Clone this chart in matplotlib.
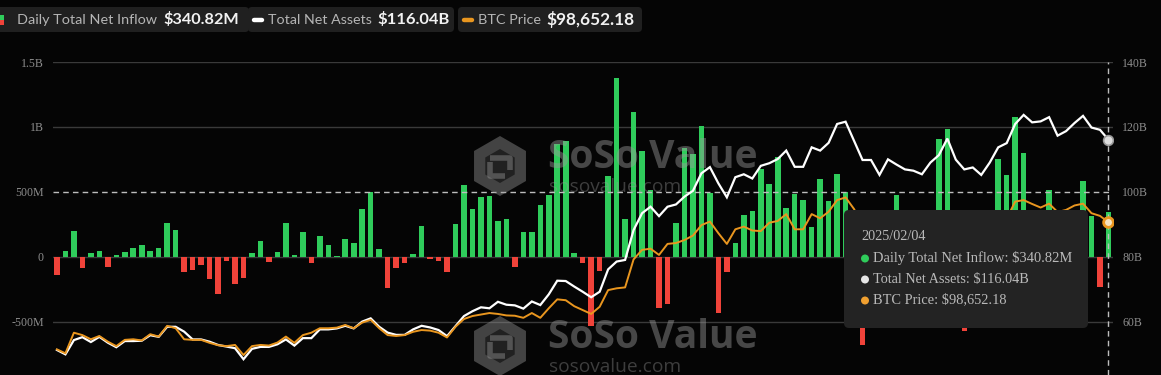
import numpy as np
import matplotlib
matplotlib.use("Agg")
import matplotlib.pyplot as plt
from matplotlib.patches import FancyBboxPatch, RegularPolygon, Rectangle, Circle
from matplotlib.lines import Line2D

W, H = 1161, 375

# ---------------- data ----------------
inflow_m = [-141, 46, 195, -85, 31, 41, -77, 13, 38, 64,
            92, 41, 67, 257, 205, -121, -100, -67, -172, -285,
            -35, -210, -167, 30, 118, -42, 40, 263, 14, 188,
            -48, 158, 91, 5, 136, 106, 366, 495, 60, -239,
            -89, -48, 24, 235, -18, -35, -118, 253, 555, 368,
            458, 470, 273, 291, -76, 191, 188, 402, 479, 870,
            892, 32, -50, -534, -113, 623, 1375, 293, 1114, 817,
            511, -395, -365, 256, 839, 795, 1006, 493, -434, -118,
            104, 322, 355, 676, 559, 769, 376, 482, 439, 225,
            600, 430, 639, 496, 275, -680, -277, -226, -338, 478,
            -288, -426, 5, 52, 909, 982, 52, -573, -149, -284,
            -209, 755, 626, 1073, 801, 248, 188, 513, -458, 22,
            40, 585, 317, -236, 340.82]

tna_b = [51.25, 49.9, 54.3, 55.2, 53.7, 55.3, 53.5, 52.1, 54.0, 54.0,
         54.1, 55.8, 55.3, 58.4, 58.4, 56.9, 54.5, 54.5, 53.8, 52.8,
         52.3, 51.8, 48.4, 51.6, 52.2, 52.2, 53.0, 54.5, 52.6, 54.9,
         54.9, 57.6, 57.6, 57.9, 58.7, 57.9, 60.0, 61.0, 58.4, 56.6,
         55.9, 55.9, 57.6, 58.7, 58.2, 57.4, 55.5, 58.6, 61.7, 63.2,
         64.4, 64.1, 66.1, 65.2, 65.0, 64.0, 66.2, 65.1, 68.4, 72.6,
         72.5, 70.8, 69.2, 67.5, 69.2, 76.1, 78.5, 79.0, 88.2, 93.4,
         95.4, 92.5, 95.4, 96.1, 98.5, 100.3, 105.7, 107.6, 102.6, 98.3,
         104.5, 105.4, 104.1, 108.0, 108.8, 110.1, 112.7, 107.7, 107.7, 113.7,
         112.7, 115.1, 120.9, 121.6, 115.7, 109.8, 109.8, 105.2, 110.0, 108.4,
         106.9, 106.5, 105.4, 109.0, 111.3, 116.4, 109.9, 106.9, 107.5, 105.2,
         109.0, 113.7, 115.0, 120.9, 123.7, 121.4, 121.7, 123.0, 117.3, 118.7,
         121.2, 123.4, 119.8, 119.1, 116.04]

btc_k = [56.0, 54.7, 61.6, 60.8, 59.4, 60.5, 58.6, 57.1, 59.2, 59.4,
         59.0, 61.1, 60.3, 63.9, 63.1, 59.4, 59.2, 59.2, 58.2, 57.4,
         57.1, 57.5, 54.1, 57.1, 57.5, 57.3, 58.3, 60.3, 58.2, 60.8,
         61.6, 63.1, 63.1, 63.3, 64.2, 63.1, 65.0, 65.9, 63.1, 60.8,
         60.5, 60.8, 61.9, 62.5, 62.3, 61.6, 60.0, 63.6, 66.2, 67.2,
         67.7, 68.2, 67.9, 67.4, 67.3, 66.6, 68.2, 66.6, 69.8, 72.8,
         72.5, 70.5, 69.2, 67.9, 70.3, 75.9, 76.5, 76.8, 86.2, 89.4,
         89.8, 87.7, 91.4, 91.7, 92.7, 94.2, 97.7, 98.9, 95.0, 91.4,
         96.3, 97.2, 95.9, 95.7, 98.5, 99.1, 101.4, 96.3, 96.3, 101.4,
         100.0, 102.2, 106.1, 107.0, 103.1, 97.5, 97.2, 94.7, 98.7, 95.8,
         94.2, 92.6, 93.4, 96.9, 98.1, 102.1, 96.9, 95.0, 94.5, 94.5,
         96.5, 100.5, 99.9, 105.6, 106.1, 104.8, 103.6, 104.9, 102.1, 102.8,
         104.3, 104.9, 101.7, 100.8, 98.65218]

left_ticks = [-5e8, 0, 5e8, 1e9, 1.5e9]
left_labels = ["-500M", "0", "500M", "1B", "1.5B"]
right_ticks = [60, 80, 100, 120, 140]
right_labels = ["60B", "80B", "100B", "120B", "140B"]
tooltip_date = "2025/02/04"
series_names = ["Daily Total Net Inflow", "Total Net Assets", "BTC Price"]

# ---------------- style ----------------
BG = "#050505"
GREEN = "#2fcc5b"
RED = "#f0433a"
ORANGE = "#e9961f"
GRID = "#3a3a3a"
TICK = "#8c8c8c"
SERIF = ["Liberation Serif", "DejaVu Serif"]

inflow = np.array(inflow_m) * 1e6
x = np.arange(len(inflow))
colors = [GREEN if v >= 0 else RED for v in inflow]

fig = plt.figure(figsize=(W / 100, H / 100), dpi=100, facecolor=BG)

def fx(px):
    return px / W

def fy(py):
    return 1 - py / H

ax_l, ax_r, ax_t, ax_b = 52.7, 1112.7, 62.0, 375.0
ax = fig.add_axes([fx(ax_l), fy(ax_b), fx(ax_r) - fx(ax_l), fy(ax_t) - fy(ax_b)])
ax.set_facecolor(BG)
ax.set_zorder(1)
ax.set_xlim(-0.5, len(inflow) - 0.5)
ax.set_ylim(-911.4e6, 1.5e9)
for s in ax.spines.values():
    s.set_visible(False)
ax.set_xticks([])
ax.set_yticks(left_ticks)
ax.set_yticklabels(left_labels, family=SERIF, color=TICK, fontsize=8.6)
ax.tick_params(axis="y", length=0, pad=6.3)
for t in left_ticks:
    if t != 5e8:
        ax.axhline(t, color=GRID, lw=1.0, zorder=0)
ax.bar(x, inflow, width=0.66, color=colors, zorder=2)
# crosshair lines
ax.axhline(5e8, color="#bdbdbd", lw=1.0, dashes=(4, 3), zorder=3)
ax.axvline(x[-1], color="#bdbdbd", lw=1.0, dashes=(4, 3), zorder=3)

# total net assets axis
ax2 = ax.twinx()
ax2.set_zorder(3)
ax2.patch.set_visible(False)
ax2.set_ylim(43.54, 140)
for s in ax2.spines.values():
    s.set_visible(False)
ax2.set_yticks(right_ticks)
ax2.set_yticklabels(right_labels, family=SERIF, color=TICK, fontsize=8.6)
ax2.tick_params(axis="y", length=0, pad=6.7)
ax2.plot(x, tna_b, color="white", lw=1.6, solid_joinstyle="miter", zorder=3)
ax2.plot([x[-1]], [tna_b[-1]], "o", ms=7, mfc="#dcdcdc", mec="#9a9a9a", mew=1.2, zorder=5)

# btc price axis (hidden)
ax3 = ax.twinx()
ax3.set_zorder(4)
ax3.patch.set_visible(False)
ax3.set_ylim(47.41, 152.44)
ax3.axis("off")
ax3.plot(x, btc_k, color=ORANGE, lw=1.4, zorder=3)
ax3.plot([x[-1]], [btc_k[-1]], "o", ms=7, mfc="#f5e3c0", mec=ORANGE, mew=2, zorder=5)

# ---------------- watermark (between bars and lines) ----------------
wm = fig.add_axes([0, 0, 1, 1])
wm.set_zorder(2)
wm.patch.set_visible(False)
wm.set_xlim(0, W)
wm.set_ylim(H, 0)
wm.axis("off")

# ---------------- overlay (legend + tooltip) ----------------
ov = fig.add_axes([0, 0, 1, 1])
ov.set_zorder(10)
ov.patch.set_visible(False)
ov.set_xlim(0, W)
ov.set_ylim(H, 0)
ov.axis("off")

fig.canvas.draw()
renderer = fig.canvas.get_renderer()

def fit(txt, width):
    bb = txt.get_window_extent(renderer)
    txt.set_fontsize(txt.get_fontsize() * width / bb.width)

WMC = (0.6, 0.6, 0.6)
for cy in (160, 340):
    hexa = RegularPolygon((500, cy + 6), 6, radius=30, orientation=0,
                          facecolor=WMC, alpha=0.42, edgecolor="none")
    wm.add_patch(hexa)
    inner = RegularPolygon((500, cy + 6), 6, radius=17, orientation=0,
                           facecolor=BG, alpha=0.55, edgecolor="none")
    wm.add_patch(inner)
    wm.plot([490, 510, 510], [cy - 2, cy - 2, cy + 10], color=WMC, alpha=0.42, lw=4,
            solid_capstyle="butt")
    wm.plot([490, 490, 505], [cy + 2, cy + 16, cy + 16], color=WMC, alpha=0.42, lw=4,
            solid_capstyle="butt")
    t1 = wm.text(548, cy - 2, "SoSo Value", family=["Open Sans", "DejaVu Sans"],
                 weight="bold", fontsize=30, color=WMC, alpha=0.45, va="center", ha="left")
    fit(t1, 210)
    t2 = wm.text(549, cy + 27, "sosovalue.com", family=["Open Sans", "DejaVu Sans"],
                 fontsize=15, color=WMC, alpha=0.38, va="center", ha="left")
    fit(t2, 132)

# ---------------- legend ----------------
LEG_BG = "#202020"
boxes = [(-6, 249), (248, 454), (458, 642)]
for (b0, b1) in boxes:
    ov.add_patch(FancyBboxPatch((b0, 7), b1 - b0, 25,
                                boxstyle="round,pad=0,rounding_size=4",
                                facecolor=LEG_BG, edgecolor="none"))
ov.add_patch(Rectangle((0, 14.5), 3.5, 5, facecolor=GREEN, edgecolor="none"))
ov.add_patch(Rectangle((0, 19.5), 3.5, 5, facecolor=RED, edgecolor="none"))
ov.add_line(Line2D([253.5, 262], [19.5, 19.5], color="white", lw=3.2, solid_capstyle="round"))
ov.add_line(Line2D([463.5, 472], [19.5, 19.5], color=ORANGE, lw=3.2, solid_capstyle="round"))

LBL = "#b5b5b5"
fam = ["Lato", "DejaVu Sans"]
legend_vals = [f"${inflow_m[-1]:.2f}M", f"${tna_b[-1]:.2f}B", f"${btc_k[-1] * 1000:,.2f}"]
label_pos = [(17.3, 158, 163, 239), (268, 372, 377, 449), (478, 541, 546, 634)]
for name, val, (l0, l1, v0, v1) in zip(series_names, legend_vals, label_pos):
    t = ov.text(l0, 20, name, family=fam, fontsize=10.8, color=LBL, va="center", ha="left")
    fit(t, l1 - l0)
    t = ov.text(v0, 20, val, family=fam, weight="bold", fontsize=11.5, color="#f2f2f2",
                va="center", ha="left")
    fit(t, v1 - v0)

# ---------------- tooltip ----------------
ov.add_patch(FancyBboxPatch((844, 210), 244, 118,
                            boxstyle="round,pad=0,rounding_size=5",
                            facecolor="#232323", edgecolor="none"))
TT = "#b9b9b9"
t = ov.text(861, 237, tooltip_date, family=SERIF, fontsize=10.3, color=TT,
            va="center", ha="left")
fit(t, 64)
rows = [
    (GREEN, f"{series_names[0]}: ${inflow_m[-1]:.2f}M", 198),
    ("#e6e6e6", f"{series_names[1]}: ${tna_b[-1]:.2f}B", 156),
    ("#f0a030", f"{series_names[2]}: ${btc_k[-1] * 1000:,.2f}", 133),
]
for k, (c, s, wdt) in enumerate(rows):
    yy = 258 + 21 * k
    ov.add_patch(Circle((865, yy + 0.5), 4.0, facecolor=c, edgecolor="none"))
    t = ov.text(873, yy, s, family=SERIF, fontsize=10.3, color=TT, va="center", ha="left")
    fit(t, wdt)

fig.savefig("out.png", dpi=100, facecolor=BG)
